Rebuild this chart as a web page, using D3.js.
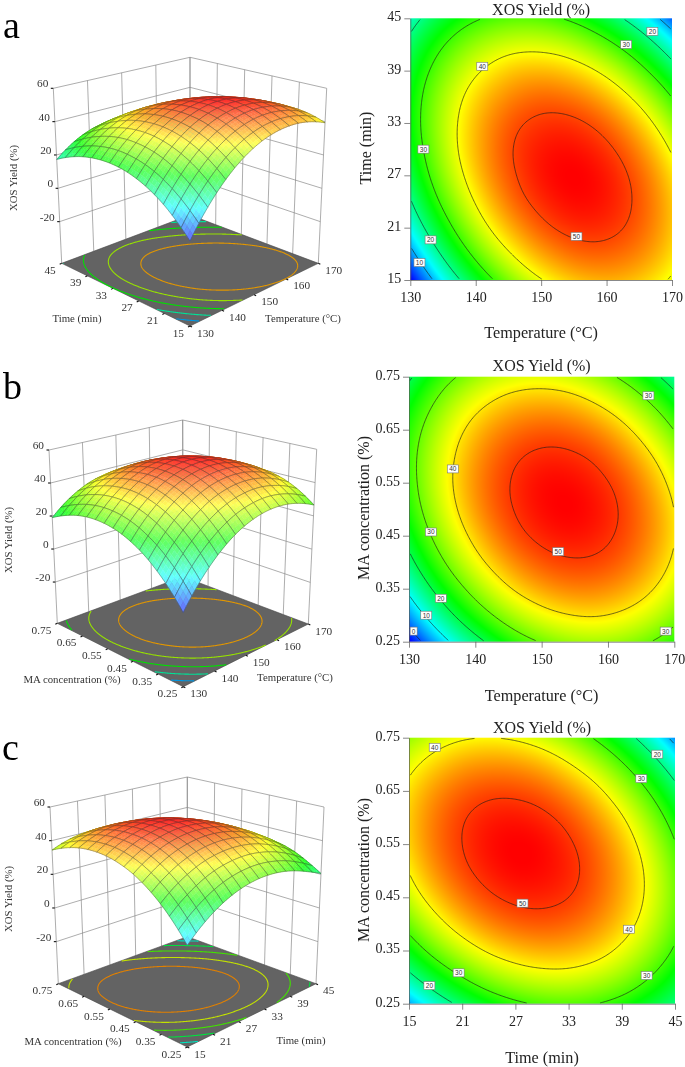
<!DOCTYPE html>
<html><head><meta charset="utf-8">
<script src="https://cdn.jsdelivr.net/npm/d3@7"></script>
<style>html,body{margin:0;padding:0;background:#fff}svg{display:block;filter:blur(.35px)}text{font-family:"Liberation Serif",serif}</style>
</head><body><div id="chart"></div>
<script>
// ---------- data: XOS yield (rows: y-variable low to high; columns: x-variable low to high)
const temperatureTicks=[130,140,150,160,170];
const timeTicks=[15,21,27,33,39,45];
const maTicks=[0.25,0.35,0.45,0.55,0.65,0.75];
const yieldTicks=[-20,0,20,40,60];
const contourLevels=[0,10,20,30,40,50];
const yieldA=[
[0.3,11.4,20.8,28.7,35.0,39.7,42.8,44.3,44.3,42.6,39.3],
[8.0,18.6,27.6,35.0,40.7,44.9,47.5,48.5,47.9,45.8,42.0],
[14.5,24.5,33.0,39.9,45.1,48.8,50.9,51.4,50.3,47.6,43.3],
[19.5,29.1,37.0,43.4,48.2,51.3,52.9,52.9,51.3,48.1,43.3],
[23.2,32.3,39.7,45.6,49.8,52.5,53.6,53.1,51.0,47.3,42.0],
[25.6,34.1,41.1,46.4,50.2,52.3,52.9,51.9,49.3,45.1,39.3],
[26.6,34.7,41.1,45.9,49.2,50.8,50.9,49.4,46.3,41.6,35.2],
[26.3,33.9,39.8,44.1,46.8,48.0,47.5,45.5,41.9,36.7,29.8],
[24.7,31.7,37.1,40.9,43.2,43.8,42.8,40.3,36.2,30.4,23.1],
[21.7,28.2,33.1,36.4,38.1,38.2,36.8,33.7,29.1,22.9,15.0],
[17.3,23.3,27.7,30.5,31.7,31.4,29.4,25.8,20.7,14.0,5.6]];
const yieldB=[
[-5.1,5.2,13.8,20.9,26.5,30.4,32.8,33.6,32.8,30.4,26.5],
[4.1,14.0,22.3,29.0,34.2,37.8,39.8,40.3,39.1,36.4,32.1],
[11.7,21.3,29.2,35.6,40.5,43.7,45.4,45.5,44.0,40.9,36.3],
[17.9,27.1,34.7,40.7,45.2,48.1,49.4,49.2,47.4,43.9,39.0],
[22.5,31.4,38.6,44.3,48.5,51.0,52.0,51.4,49.2,45.5,40.2],
[25.7,34.2,41.1,46.5,50.2,52.4,53.1,52.1,49.6,45.5,39.9],
[27.3,35.5,42.1,47.1,50.5,52.4,52.6,51.3,48.5,44.0,38.0],
[27.5,35.3,41.5,46.2,49.3,50.8,50.7,49.1,45.8,41.0,34.7],
[26.2,33.6,39.5,43.8,46.5,47.7,47.3,45.3,41.7,36.5,29.8],
[23.3,30.4,36.0,39.9,42.3,43.1,42.4,40.0,36.1,30.6,23.6],
[19.0,25.8,30.9,34.6,36.6,37.1,36.0,33.3,29.0,23.2,15.7]];
const yieldC=[
[9.1,16.0,21.6,25.9,28.9,30.6,31.0,30.1,27.9,24.5,20.5],
[18.3,24.8,30.0,34.0,36.6,37.9,38.0,36.7,34.2,30.3,25.2],
[26.0,32.2,37.0,40.6,42.8,43.8,43.5,41.9,38.9,34.7,29.2],
[32.2,38.0,42.5,45.7,47.6,48.2,47.5,45.5,42.2,37.6,31.7],
[37.0,42.4,46.5,49.3,50.8,51.0,50.0,47.6,43.9,39.0,32.7],
[40.2,45.3,49.0,51.4,52.6,52.4,51.0,48.2,44.2,38.9,32.2],
[42.0,46.7,50.0,52.1,52.9,52.4,50.5,47.4,43.0,37.3,30.3],
[42.3,46.6,49.6,51.3,51.7,50.8,48.6,45.1,40.4,34.3,26.9],
[41.2,45.1,47.7,49.0,49.0,47.8,45.2,41.4,36.2,29.8,22.1],
[38.5,42.0,44.3,45.2,44.9,43.3,40.3,36.1,30.6,23.8,15.7],
[34.4,37.5,39.4,40.0,39.3,37.3,34.0,29.4,23.5,16.3,7.8]];
// contour-label anchors in data units: [level, x, y]
const labelsA=[[10,131.4,17],[20,133.1,19.6],[30,132,30],[40,141,39.5],[30,163,42],[20,167,43.5],[50,155.4,20]];
const labelsB=[[0,130.7,.27],[10,132.6,.30],[20,134.8,.332],[30,133.3,.457],[40,136.6,.576],[50,152.5,.42],[30,166.1,.714],[30,168.7,.27]];
const labelsC=[[40,17.9,.732],[30,41.2,.673],[20,43,.719],[50,27.8,.439],[40,39.8,.39],[30,41.8,.303],[30,20.6,.308],[20,17.3,.284]];

// ---------- layout
const panels=[
 {letter:"a",lx:3,ly:38,values:yieldA,colorMin:0.3,labels:labelsA,xTicks:temperatureTicks,yTicks:timeTicks,xName:"Temperature (°C)",yName:"Time (min)",fmtY:d3.format("d"),
  plot:[410.3,672,18.3,280],titleY:14.5,xTitleY:338,yTitleX:365,yTitleY:148,
  box:{L:[53.3,88.3],B:[190,57.3],R:[326.7,88.3],F:[190,129],l:[61.7,263.3],b:[190,215],r:[318.3,263.3],f:[190,326]},
  lab3:{x:[303,318],y:[77,318],z:[13,178]}},
 {letter:"b",lx:3,ly:399,values:yieldB,colorMin:-5.1,labels:labelsB,xTicks:temperatureTicks,yTicks:maTicks,xName:"Temperature (°C)",yName:"MA concentration (%)",fmtY:d3.format(".2f"),
  plot:[409,674.3,376.7,641.7],titleY:371,xTitleY:701,yTitleX:363,yTitleY:508,
  box:{L:[49,450],B:[182.7,420],R:[316.7,449.3],F:[183,491.7],l:[57.3,623.3],b:[183,576.7],r:[308.3,624],f:[183.3,686.7]},
  lab3:{x:[295,677],y:[72,678.5],z:[8,540]}},
 {letter:"c",lx:2,ly:760,values:yieldC,colorMin:0,labels:labelsC,xTicks:timeTicks,yTicks:maTicks,xName:"Time (min)",yName:"MA concentration (%)",fmtY:d3.format(".2f"),
  plot:[409,675,737.7,1003.7],titleY:733,xTitleY:1063,yTitleX:363,yTitleY:870,
  box:{L:[50,807],B:[187.3,777],R:[324,807],F:[187.3,849.7],l:[58.3,983.7],b:[187.3,936.7],r:[316,983.7],f:[187.3,1047]},
  lab3:{x:[301,1040],y:[73,1041],z:[8,899]}}
];
const serif='"Liberation Serif",serif';
const svg=d3.select("#chart").append("svg").attr("width",685).attr("height",1067);

function cubic(a,b,c,d,t){return b+.5*t*(c-a+t*(2*a-5*b+4*c-d+t*(3*(b-c)+d-a)));}
function makeField(g){
  const N=g.length-1;
  const at=(j,i)=>{
    if(i<0) return 3*at(j,0)-3*at(j,1)+at(j,2);
    if(i>N) return 3*at(j,N)-3*at(j,N-1)+at(j,N-2);
    if(j<0) return 3*at(0,i)-3*at(1,i)+at(2,i);
    if(j>N) return 3*at(N,i)-3*at(N-1,i)+at(N-2,i);
    return g[j][i];
  };
  return (gx,gy)=>{
    const i=Math.min(N-1,Math.floor(gx)),j=Math.min(N-1,Math.floor(gy)),tx=gx-i,ty=gy-j;
    const r=[-1,0,1,2].map(dj=>cubic(at(j+dj,i-1),at(j+dj,i),at(j+dj,i+1),at(j+dj,i+2),tx));
    return cubic(r[0],r[1],r[2],r[3],ty);
  };
}
function contourSegments(field,levels){
  const n=200,vals=new Float64Array(n*n),k=10/(n-1);
  for(let j=0;j<n;j++)for(let i=0;i<n;i++)vals[j*n+i]=field(i*k,j*k);
  const out=[];
  d3.contours().size([n,n]).thresholds(levels)(vals).forEach(c=>{
    const segs=[];
    c.coordinates.forEach(poly=>poly.forEach(ring=>{
      let cur=[];
      const edge=p=>p[0]<=1||p[0]>=n-1||p[1]<=1||p[1]>=n-1;
      for(let q=0;q<ring.length;q++){
        const p=ring[q];
        if(edge(p)){ if(cur.length>1)segs.push(cur); cur=[]; }
        else cur.push([Math.max(0,Math.min(10,(p[0]-.5)*k)),Math.max(0,Math.min(10,(p[1]-.5)*k))]);
      }
      if(cur.length>1)segs.push(cur);
    }));
    out.push({level:c.value,segs});
  });
  return out;
}

panels.forEach(P=>{
  const field=makeField(P.values);
  const flat=P.values.flat(),vMin=d3.min(flat),vMax=d3.max(flat),st=(vMax-P.colorMin)/4;
  const color=d3.scaleLinear().domain([0,1,2,3,4].map(k=>P.colorMin+k*st)).range(["#0000ff","#00ffff","#00ff00","#ffff00","#ff0000"]).clamp(true);
  const xDom=d3.extent(P.xTicks),yDom=d3.extent(P.yTicks);
  const segs=contourSegments(field,contourLevels);
  const floorLevels=d3.range(1,6).map(k=>vMin+k*(vMax-vMin)/6);
  const floorSegs=contourSegments(field,floorLevels);

  // ---------- 2D contour plot
  const [x0,x1,y0,y1]=P.plot;
  const sx=d3.scaleLinear().domain(xDom).range([x0,x1]),sy=d3.scaleLinear().domain(yDom).range([y1,y0]);
  const gridX=d3.scaleLinear().domain([0,10]).range(xDom),gridY=d3.scaleLinear().domain([0,10]).range(yDom);
  const W=Math.round(x1-x0),H=Math.round(y1-y0);
  const cv=document.createElement("canvas");cv.width=W;cv.height=H;
  const ctx=cv.getContext("2d"),img=ctx.createImageData(W,H);
  for(let j=0;j<H;j++)for(let i=0;i<W;i++){
    const c=d3.rgb(color(field(i/(W-1)*10,(H-1-j)/(H-1)*10))),o=(j*W+i)*4;
    img.data[o]=c.r;img.data[o+1]=c.g;img.data[o+2]=c.b;img.data[o+3]=255;
  }
  ctx.putImageData(img,0,0);
  svg.append("image").attr("x",x0).attr("y",y0).attr("width",x1-x0).attr("height",y1-y0)
     .attr("preserveAspectRatio","none").attr("href",cv.toDataURL());
  const line2=d3.line().x(d=>sx(gridX(d[0]))).y(d=>sy(gridY(d[1])));
  segs.forEach(c=>c.segs.forEach(s=>svg.append("path").attr("d",line2(s)).attr("fill","none").attr("stroke","#1a1a1a").attr("stroke-opacity",.8).attr("stroke-width",.8)));
  const lab=svg.append("g").selectAll("g").data(P.labels).join("g").attr("transform",d=>`translate(${sx(d[1])},${sy(d[2])})`);
  lab.append("rect").attr("x",d=>d[0]===0?-3.5:-5.5).attr("y",-4).attr("width",d=>d[0]===0?7:11).attr("height",8).attr("fill","#fff").attr("stroke","#777").attr("stroke-width",.6);
  lab.append("text").attr("text-anchor","middle").attr("dy","2.4").style("font-family",'"Liberation Sans",sans-serif').style("font-size","6.5px").attr("fill","#333").text(d=>d[0]);
  const ax=svg.append("g").attr("transform",`translate(0,${y1})`).call(d3.axisBottom(sx).tickValues(P.xTicks).tickFormat(d3.format("d")).tickSize(6).tickPadding(6).tickSizeOuter(0));
  const ay=svg.append("g").attr("transform",`translate(${x0},0)`).call(d3.axisLeft(sy).tickValues(P.yTicks).tickFormat(P.fmtY).tickSize(6).tickPadding(3).tickSizeOuter(0));
  [ax,ay].forEach(a=>{a.selectAll("text").style("font-family",serif).style("font-size","14px").attr("fill","#222");a.selectAll("line,path").attr("stroke","#555").attr("stroke-width",.7);});
  ay.selectAll("text").attr("transform","translate(0,-2)");
  svg.append("text").attr("x",(x0+x1)/2).attr("y",P.titleY).attr("text-anchor","middle").style("font-size","16px").attr("fill","#222").text("XOS Yield (%)");
  svg.append("text").attr("x",(x0+x1)/2).attr("y",P.xTitleY).attr("text-anchor","middle").style("font-size","16.2px").attr("fill","#222").text(P.xName);
  svg.append("text").attr("transform",`translate(${P.yTitleX},${P.yTitleY}) rotate(-90)`).attr("dy",".35em").attr("text-anchor","middle").style("font-size","16px").attr("fill","#222").text(P.yName);
  svg.append("text").attr("x",P.lx).attr("y",P.ly).style("font-size","38px").attr("fill","#000").text(P.letter);

  // ---------- 3D response surface
  const B=P.box;
  const fx=d3.scaleLinear().domain(xDom).range([0,1]),fy=d3.scaleLinear().domain(yDom).range([0,1]),fz=d3.scaleLinear().domain([-45,60]).range([0,1]);
  const bil=(a,b,c,d,u,v,k)=>(1-u)*(1-v)*a[k]+u*(1-v)*b[k]+u*v*c[k]+(1-u)*v*d[k];
  const proj=(u,v,z)=>{const t=fz(z);return [0,1].map(k=>(1-t)*bil(B.f,B.r,B.b,B.l,u,v,k)+t*bil(B.F,B.R,B.B,B.L,u,v,k));};
  const g=svg.append("g");
  const line=d3.line();
  const seg=(a,b)=>g.append("path").attr("d",line([a,b])).attr("stroke","#8a8a8a").attr("stroke-width",.7).attr("fill","none");
  const zMin=fz.domain()[0],zMax=fz.domain()[1];
  yieldTicks.forEach(z=>{seg(proj(0,1,z),proj(1,1,z));seg(proj(1,1,z),proj(1,0,z));});
  P.xTicks.forEach(t=>seg(proj(fx(t),1,zMin),proj(fx(t),1,zMax)));
  P.yTicks.forEach(t=>seg(proj(1,fy(t),zMin),proj(1,fy(t),zMax)));
  g.append("path").attr("d",line([proj(0,1,zMin),proj(0,0,zMin),proj(1,0,zMin),proj(1,1,zMin)])+"Z").attr("fill","#636363").attr("stroke","#444").attr("stroke-width",.6);
  const cell=d3.scaleLinear().domain([0,10]).range([0,1]);
  floorSegs.forEach(c=>{
    const col=d3.rgb(color(c.level)).darker(.35).formatHex();
    c.segs.forEach(s=>g.append("path").attr("d",line(s.map(d=>proj(cell(d[0]),cell(d[1]),zMin)))).attr("fill","none").attr("stroke",col).attr("stroke-width",1.1));
  });
  // surface, back to front
  const M=15,SUB=3,cells=[],stp=10/M;
  for(let j=0;j<M;j++)for(let i=0;i<M;i++)cells.push([i,j]);
  cells.sort((a,b)=>(b[0]+b[1])-(a[0]+a[1]));
  const Zs=field;
  const shade=(gx,gy,val)=>{
    const e=.05,gxa=Math.max(0,gx-e),gxb=Math.min(10,gx+e),gya=Math.max(0,gy-e),gyb=Math.min(10,gy+e);
    const du=(Zs(gxb,gy)-Zs(gxa,gy))/(gxb-gxa)*5/50,dv=(Zs(gx,gyb)-Zs(gx,gya))/(gyb-gya)*5/50;
    const len=Math.hypot(du,dv,1),dot=(du*.6+dv*.6+.5)/len;
    return d3.interpolateRgb(color(val),"#ffffff")(Math.max(0,Math.min(.5,.42*Math.max(0,dot)-.02)));
  };
  const sg=svg.append("g");
  const pt=(x,y)=>proj(cell(x),cell(y),Zs(x,y));
  cells.forEach(([i,j])=>{
    for(let b=SUB-1;b>=0;b--)for(let a=SUB-1;a>=0;a--){
      const gx0=(i+a/SUB)*stp,gx1=(i+(a+1)/SUB)*stp,gy0=(j+b/SUB)*stp,gy1=(j+(b+1)/SUB)*stp;
      const mx=(gx0+gx1)/2,my=(gy0+gy1)/2,col=shade(mx,my,Zs(mx,my));
      sg.append("path").attr("d",line([pt(gx0,gy0),pt(gx1,gy0),pt(gx1,gy1),pt(gx0,gy1)])+"Z").attr("fill",col).attr("stroke",col).attr("stroke-width",.4);
    }
    const X0=i*stp,X1=(i+1)*stp,Y0=j*stp,Y1=(j+1)*stp;
    const edge=[];for(let q=0;q<=4;q++)edge.push(pt(X0+(X1-X0)*q/4,Y0));
    for(let q=1;q<=4;q++)edge.push(pt(X1,Y0+(Y1-Y0)*q/4));
    for(let q=1;q<=4;q++)edge.push(pt(X1-(X1-X0)*q/4,Y1));
    for(let q=1;q<=4;q++)edge.push(pt(X0,Y1-(Y1-Y0)*q/4));
    sg.append("path").attr("d",line(edge)+"Z").attr("fill","none").attr("stroke","#2a2a2a").attr("stroke-opacity",.6).attr("stroke-width",.6);
  });
  // ticks and labels, drawn through the same projection
  const tg=svg.append("g").style("font-size","11.3px").attr("fill","#333");
  yieldTicks.forEach(z=>{
    const p=proj(0,1,z);
    tg.append("path").attr("d",line([p,[p[0]-2.5,p[1]]])).attr("stroke","#111").attr("stroke-width",1.1);
    tg.append("text").attr("x",p[0]-5).attr("y",p[1]-1).attr("text-anchor","end").text(z);
  });
  P.yTicks.forEach(t=>{
    const p=proj(0,fy(t),zMin);
    tg.append("path").attr("d",line([p,[p[0]-2,p[1]+1]])).attr("stroke","#111").attr("stroke-width",1.1);
    tg.append("text").attr("x",p[0]-6).attr("y",p[1]+10.5).attr("text-anchor","end").text(P.fmtY(t));
  });
  P.xTicks.forEach(t=>{
    const p=proj(fx(t),0,zMin);
    tg.append("path").attr("d",line([p,[p[0]+2,p[1]+1]])).attr("stroke","#111").attr("stroke-width",1.1);
    tg.append("text").attr("x",p[0]+7).attr("y",p[1]+10.5).attr("text-anchor","start").text(d3.format("d")(t));
  });
  const lg=svg.append("g").style("font-size","10.8px").attr("fill","#333").attr("text-anchor","middle");
  lg.append("text").attr("x",P.lab3.x[0]).attr("y",P.lab3.x[1]+4).text(P.xName);
  lg.append("text").attr("x",P.lab3.y[0]).attr("y",P.lab3.y[1]+4).text(P.yName);
  lg.append("text").attr("transform",`translate(${P.lab3.z[0]+4},${P.lab3.z[1]}) rotate(-90)`).text("XOS Yield (%)");
});
</script></body></html>
